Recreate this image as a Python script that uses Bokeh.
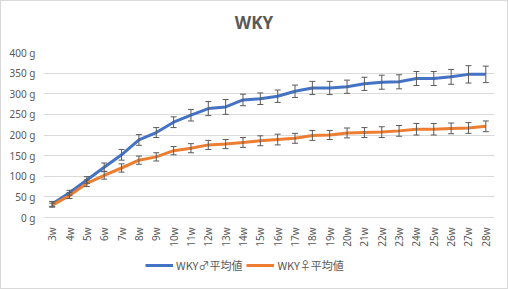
from bokeh.plotting import figure
from bokeh.models import (ColumnDataSource, FactorRange, Range1d, Whisker, TeeHead,
                          Legend, LegendItem, PrintfTickFormatter, FixedTicker, Label)
from bokeh.layouts import column
from bokeh.embed import file_html
from bokeh.resources import INLINE

weeks = ["3w", "4w", "5w", "6w", "7w", "8w", "9w", "10w", "11w", "12w", "13w", "14w", "15w",
         "16w", "17w", "18w", "19w", "20w", "21w", "22w", "23w", "24w", "25w", "26w", "27w", "28w"]
male_mean = [33, 60, 91, 122, 152, 188, 206, 231, 248, 264, 268, 285, 288,
             294, 306, 314, 314, 317, 324, 328, 329, 337, 337, 341, 347, 347]
male_err = [6, 6, 8, 10, 13, 13, 12, 13, 14, 17, 18, 14, 14,
            15, 15, 16, 16, 16, 16, 17, 17, 17, 17, 18, 21, 20]
female_mean = [30, 53, 83, 102, 120, 139, 147, 162, 168, 176, 178, 182, 186,
               189, 192, 199, 200, 205, 206, 207, 210, 214, 214, 216, 217, 221]
female_err = [5, 7, 8, 9, 10, 10, 10, 10, 11, 11, 11, 12, 12,
              13, 12, 12, 11, 12, 12, 13, 13, 14, 14, 13, 13, 13]
y_ticks = [0, 50, 100, 150, 200, 250, 300, 350, 400]
title_text = "WKY"
male_label = "WKY♂平均値"
female_label = "WKY♀平均値"

BLUE = "#4472C4"
ORANGE = "#ED7D31"
TXT = "#595959"
GRID = "#D9D9D9"


def strip(h):
    f = figure(width=506, height=h, output_backend="svg", toolbar_location=None,
               x_axis_location=None, y_axis_location=None,
               min_border_left=0, min_border_right=0, min_border_top=0, min_border_bottom=0,
               x_range=FactorRange(factors=weeks, range_padding=0), y_range=Range1d(-20, -10))
    f.outline_line_color = None
    f.xgrid.grid_line_color = None
    f.ygrid.grid_line_color = None
    return f


# title strip
tf = strip(36)
tf.add_layout(Label(x=210.5, y=15, x_units="screen", y_units="screen", text=title_text,
                    text_align="center", text_baseline="middle", text_font="Noto Sans",
                    text_font_size="17px", text_font_style="bold", text_color=TXT))

p = figure(width=506, height=213, x_range=FactorRange(factors=weeks, range_padding=0),
           y_range=Range1d(0, 400), output_backend="svg", toolbar_location=None,
           min_border_left=42, min_border_right=13, min_border_top=15, min_border_bottom=33)
p.outline_line_color = None

ms = ColumnDataSource(dict(x=weeks, y=male_mean,
                           lo=[m - e for m, e in zip(male_mean, male_err)],
                           hi=[m + e for m, e in zip(male_mean, male_err)]))
fs = ColumnDataSource(dict(x=weeks, y=female_mean,
                           lo=[m - e for m, e in zip(female_mean, female_err)],
                           hi=[m + e for m, e in zip(female_mean, female_err)]))

r_m = p.line(x="x", y="y", source=ms, line_color=BLUE, line_width=3, line_join="round")
r_f = p.line(x="x", y="y", source=fs, line_color=ORANGE, line_width=3, line_join="round")

for src in (ms, fs):
    w = Whisker(base="x", lower="lo", upper="hi", source=src, line_color="#5A5A5A", line_width=1,
                upper_head=TeeHead(size=6, line_color="#5A5A5A", line_width=1),
                lower_head=TeeHead(size=6, line_color="#5A5A5A", line_width=1),
                level="annotation")
    p.add_layout(w)

p.yaxis.ticker = FixedTicker(ticks=y_ticks)
p.yaxis.formatter = PrintfTickFormatter(format="%d g")
p.yaxis.axis_line_color = None
p.yaxis.major_tick_line_color = None
p.yaxis.minor_tick_line_color = None
p.yaxis.major_label_standoff = 2
p.yaxis.major_label_text_font = "Noto Sans"
p.yaxis.major_label_text_font_size = "10px"
p.yaxis.major_label_text_color = TXT

p.xaxis.axis_line_color = GRID
p.xaxis.major_tick_line_color = None
p.xaxis.minor_tick_line_color = None
p.xaxis.major_label_orientation = 1.5708
p.xaxis.major_label_standoff = 4
p.xaxis.major_label_text_font = "Noto Sans"
p.xaxis.major_label_text_font_size = "10px"
p.xaxis.major_label_text_color = TXT

p.xgrid.grid_line_color = None
p.ygrid.grid_line_color = GRID
p.ygrid.ticker = FixedTicker(ticks=y_ticks)

# legend strip below the chart (its lines lie outside its visible range)
lg = strip(38)
l_m = lg.line(x="x", y="y", source=ms, line_color=BLUE, line_width=3)
l_f = lg.line(x="x", y="y", source=fs, line_color=ORANGE, line_width=3)
legend = Legend(items=[LegendItem(label=male_label, renderers=[l_m]),
                       LegendItem(label=female_label, renderers=[l_f])],
                orientation="horizontal", location=(102, 15),
                border_line_color=None, background_fill_alpha=0,
                label_text_font="Noto Sans CJK JP", label_text_font_size="11px",
                label_text_color=TXT, glyph_width=28, glyph_height=14,
                label_standoff=3, spacing=4, padding=0, margin=0)
lg.add_layout(legend, "center")

layout = column(tf, p, lg, spacing=0)
layout.styles = {"border": "1px solid #D9D9D9"}

open("out.html", "w").write(file_html(layout, INLINE))
